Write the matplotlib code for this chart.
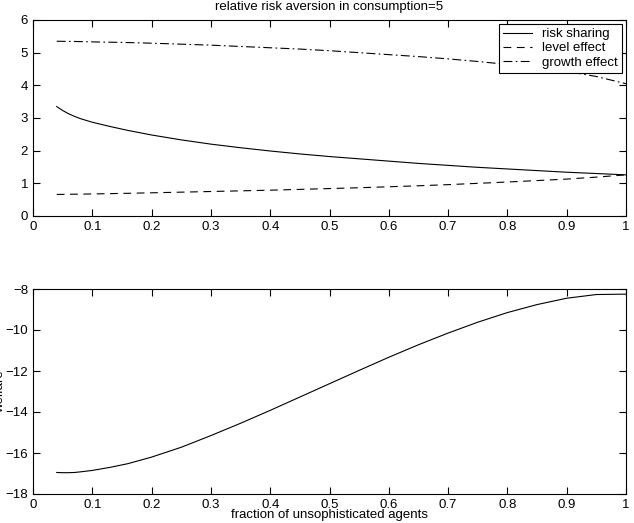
import matplotlib
matplotlib.use('Agg')
import matplotlib.pyplot as plt

plt.rcParams['font.family'] = ['Liberation Sans', 'DejaVu Sans']
plt.rcParams['font.size'] = 9.5

# fraction of unsophisticated agents
frac = [0.04, 0.05, 0.06, 0.07, 0.08, 0.1, 0.13, 0.16, 0.2, 0.25, 0.3, 0.35, 0.4, 0.45, 0.5,
        0.55, 0.6, 0.65, 0.7, 0.75, 0.8, 0.85, 0.9, 0.95, 1.0]

risk_sharing = [3.35, 3.23, 3.13, 3.05, 2.98, 2.87, 2.74, 2.62, 2.48, 2.33, 2.20, 2.09, 1.99, 1.90, 1.82,
                1.75, 1.68, 1.61, 1.55, 1.49, 1.44, 1.39, 1.34, 1.30, 1.26]
level_effect = [0.66, 0.662, 0.665, 0.668, 0.67, 0.675, 0.685, 0.695, 0.71, 0.73, 0.75, 0.77, 0.79, 0.815, 0.84,
                0.865, 0.895, 0.925, 0.96, 1.0, 1.04, 1.085, 1.13, 1.19, 1.26]
growth_effect = [5.35, 5.347, 5.345, 5.342, 5.34, 5.33, 5.32, 5.31, 5.29, 5.26, 5.23, 5.19, 5.15, 5.11, 5.06,
                 5.0, 4.94, 4.88, 4.81, 4.73, 4.64, 4.54, 4.43, 4.27, 4.05]

welfare = [-16.95, -16.96, -16.96, -16.95, -16.92, -16.85, -16.7, -16.52, -16.2, -15.72, -15.15, -14.55, -13.92,
           -13.27, -12.62, -11.97, -11.33, -10.72, -10.15, -9.62, -9.15, -8.76, -8.45, -8.27, -8.25]

ticks = [i / 10 for i in range(11)]
tick_labels = ['0', '0.1', '0.2', '0.3', '0.4', '0.5', '0.6', '0.7', '0.8', '0.9', '1']

fig = plt.figure(figsize=(6.34, 5.23), dpi=100)
ax1 = fig.add_axes([33 / 634, 1 - 216 / 523, 593 / 634, 196 / 523])
ax2 = fig.add_axes([33 / 634, 1 - 494 / 523, 593 / 634, 205 / 523])

ax1.plot(frac, risk_sharing, color='black', lw=0.8, ls='-', label='risk sharing')
ax1.plot(frac, level_effect, color='black', lw=0.8, ls=(0, (7, 5)), label='level effect')
ax1.plot(frac, growth_effect, color='black', lw=0.8, ls=(0, (8, 3, 1.5, 3)), label='growth effect')
ax1.set_xlim(0, 1)
ax1.set_ylim(0, 6)
ax1.set_xticks(ticks)
ax1.set_xticklabels(tick_labels)
ax1.set_yticks(range(7))
ax1.set_title('relative risk aversion in consumption=5', fontsize=9.5, pad=7)
leg = ax1.legend(loc='upper right', fancybox=False, edgecolor='black', framealpha=1,
                 handlelength=2.2, borderpad=0.3, labelspacing=0.15, borderaxespad=0.3)
leg.get_frame().set_linewidth(0.8)

ax2.plot(frac, welfare, color='black', lw=0.8)
ax2.set_xlim(0, 1)
ax2.set_ylim(-18, -8)
ax2.set_xticks(ticks)
ax2.set_xticklabels(tick_labels)
ax2.set_yticks(range(-18, -7, 2))
ax2.set_yticklabels(['\u221218', '\u221216', '\u221214', '\u221212', '\u221210', '\u22128'])
ax2.set_xlabel('fraction of unsophisticated agents', labelpad=-1)
ax2.set_ylabel('welfare')
ax2.yaxis.set_label_coords(-0.045, 0.5)

for ax in (ax1, ax2):
    ax.tick_params(direction='in', top=True, right=True, length=5, width=0.8, pad=3.5)
    for s in ax.spines.values():
        s.set_linewidth(0.8)

fig.savefig('out.png', dpi=100)
